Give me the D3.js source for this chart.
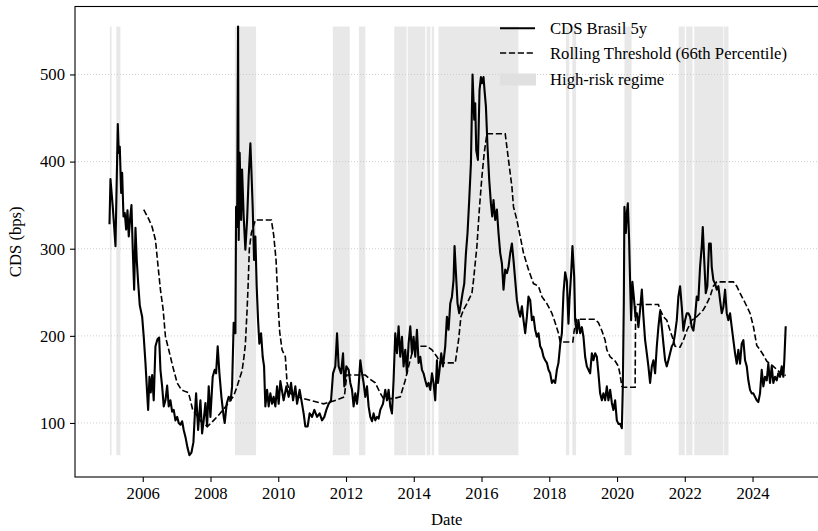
<!DOCTYPE html>
<html>
<head>
<meta charset="utf-8">
<script src="https://cdn.jsdelivr.net/npm/d3@7/dist/d3.min.js"></script>
<style>
  html, body { margin: 0; padding: 0; background: #ffffff; }
  svg { display: block; }
  text { font-family: "Liberation Serif", "Times New Roman", serif; fill: #000; }
</style>
</head>
<body>
<svg id="chart" width="818" height="531"></svg>
<script>
// Brazil 5y CDS (bps), dates as decimal years
const cdsYears = [
  2005.018, 2005.047, 2005.115, 2005.195, 2005.263, 2005.292, 2005.322, 2005.363, 2005.392, 2005.431,
  2005.469, 2005.510, 2005.549, 2005.587, 2005.628, 2005.667, 2005.705, 2005.746, 2005.785, 2005.823,
  2005.864, 2005.912, 2005.982, 2006.029, 2006.080, 2006.130, 2006.159, 2006.198, 2006.236, 2006.277,
  2006.324, 2006.375, 2006.434, 2006.484, 2006.522, 2006.572, 2006.619, 2006.670, 2006.720, 2006.767,
  2006.817, 2006.867, 2006.914, 2006.965, 2007.015, 2007.062, 2007.112, 2007.162, 2007.209, 2007.260,
  2007.319, 2007.378, 2007.437, 2007.496, 2007.540, 2007.575, 2007.634, 2007.702, 2007.752, 2007.799,
  2007.850, 2007.900, 2007.947, 2007.997, 2008.065, 2008.124, 2008.165, 2008.212, 2008.263, 2008.322,
  2008.389, 2008.419, 2008.478, 2008.537, 2008.596, 2008.637, 2008.684, 2008.735, 2008.755, 2008.785,
  2008.814, 2008.832, 2008.861, 2008.903, 2008.932, 2008.979, 2009.029, 2009.080, 2009.127, 2009.177,
  2009.206, 2009.245, 2009.286, 2009.324, 2009.363, 2009.404, 2009.442, 2009.493, 2009.540, 2009.581,
  2009.619, 2009.670, 2009.717, 2009.767, 2009.817, 2009.864, 2009.914, 2009.965, 2010.012, 2010.062,
  2010.159, 2010.239, 2010.307, 2010.378, 2010.437, 2010.504, 2010.555, 2010.631, 2010.702, 2010.749,
  2010.799, 2010.867, 2010.926, 2010.997, 2011.065, 2011.145, 2011.221, 2011.292, 2011.360, 2011.419,
  2011.487, 2011.558, 2011.617, 2011.684, 2011.735, 2011.782, 2011.853, 2011.912, 2011.950, 2012.009,
  2012.077, 2012.127, 2012.177, 2012.224, 2012.274, 2012.324, 2012.366, 2012.422, 2012.472, 2012.519,
  2012.569, 2012.619, 2012.667, 2012.717, 2012.767, 2012.814, 2012.864, 2012.914, 2012.962, 2013.012,
  2013.091, 2013.159, 2013.209, 2013.257, 2013.307, 2013.357, 2013.404, 2013.454, 2013.504, 2013.552,
  2013.602, 2013.652, 2013.699, 2013.749, 2013.799, 2013.847, 2013.897, 2013.947, 2013.994, 2014.044,
  2014.094, 2014.142, 2014.192, 2014.242, 2014.289, 2014.339, 2014.389, 2014.437, 2014.487, 2014.537,
  2014.584, 2014.634, 2014.684, 2014.714, 2014.761, 2014.811, 2014.861, 2014.929, 2014.979, 2015.027,
  2015.077, 2015.127, 2015.174, 2015.204, 2015.245, 2015.292, 2015.342, 2015.392, 2015.440, 2015.490,
  2015.540, 2015.587, 2015.637, 2015.687, 2015.735, 2015.785, 2015.814, 2015.844, 2015.894, 2015.941,
  2015.982, 2016.012, 2016.059, 2016.088, 2016.130, 2016.177, 2016.227, 2016.277, 2016.316, 2016.354,
  2016.404, 2016.454, 2016.501, 2016.552, 2016.602, 2016.649, 2016.699, 2016.749, 2016.796, 2016.847,
  2016.897, 2016.944, 2016.994, 2017.044, 2017.091, 2017.142, 2017.192, 2017.239, 2017.289, 2017.339,
  2017.386, 2017.437, 2017.487, 2017.534, 2017.584, 2017.634, 2017.682, 2017.732, 2017.782, 2017.829,
  2017.879, 2017.929, 2017.977, 2018.027, 2018.077, 2018.124, 2018.174, 2018.224, 2018.271, 2018.322,
  2018.372, 2018.419, 2018.469, 2018.519, 2018.566, 2018.596, 2018.646, 2018.684, 2018.735, 2018.764,
  2018.814, 2018.861, 2018.912, 2018.962, 2019.009, 2019.059, 2019.109, 2019.157, 2019.206, 2019.257,
  2019.304, 2019.354, 2019.404, 2019.451, 2019.501, 2019.552, 2019.599, 2019.649, 2019.699, 2019.746,
  2019.797, 2019.847, 2019.894, 2019.944, 2019.994, 2020.041, 2020.092, 2020.142, 2020.171, 2020.201,
  2020.218, 2020.260, 2020.289, 2020.319, 2020.357, 2020.387, 2020.416, 2020.454, 2020.504, 2020.543,
  2020.584, 2020.631, 2020.681, 2020.732, 2020.779, 2020.829, 2020.879, 2020.926, 2020.976, 2021.027,
  2021.074, 2021.124, 2021.174, 2021.221, 2021.271, 2021.322, 2021.369, 2021.419, 2021.469, 2021.516,
  2021.566, 2021.617, 2021.664, 2021.714, 2021.764, 2021.811, 2021.861, 2021.912, 2021.959, 2022.009,
  2022.059, 2022.106, 2022.156, 2022.206, 2022.254, 2022.304, 2022.354, 2022.401, 2022.451, 2022.501,
  2022.531, 2022.569, 2022.619, 2022.666, 2022.717, 2022.767, 2022.796, 2022.844, 2022.894, 2022.944,
  2022.991, 2023.041, 2023.091, 2023.139, 2023.189, 2023.239, 2023.286, 2023.336, 2023.386, 2023.434,
  2023.484, 2023.534, 2023.581, 2023.631, 2023.681, 2023.729, 2023.779, 2023.829, 2023.876, 2023.926,
  2023.976, 2024.024, 2024.074, 2024.124, 2024.171, 2024.221, 2024.271, 2024.319, 2024.369, 2024.419,
  2024.466, 2024.516, 2024.566, 2024.614, 2024.664, 2024.714, 2024.761, 2024.811, 2024.861, 2024.909,
  2024.938, 2024.979
];
const cdsValues = [
  328, 380, 348, 303, 443, 410, 417, 364, 387, 337,
  341, 322, 344, 314, 335, 350, 299, 253, 324, 287,
  261, 235, 222, 199, 169, 134, 115, 153, 135, 155,
  126, 188, 196, 198, 161, 142, 119, 126, 143, 119,
  126, 113, 115, 103, 107, 100, 98, 102, 92, 84,
  72, 63, 66, 78, 112, 134, 92, 126, 88, 103,
  123, 96, 142, 107, 153, 161, 157, 188, 157, 130,
  107, 100, 122, 130, 126, 142, 215, 203, 348, 325,
  555, 310, 410, 333, 391, 337, 299, 333, 383, 421,
  391, 348, 287, 314, 257, 218, 191, 203, 176, 165,
  119, 138, 119, 134, 122, 130, 119, 142, 122, 148,
  126, 142, 130, 146, 126, 142, 122, 138, 122, 111,
  96, 96, 111, 107, 115, 107, 111, 103, 107, 115,
  122, 126, 157, 165, 203, 165, 157, 180, 142, 165,
  161, 146, 138, 119, 134, 122, 138, 172, 157, 146,
  130, 142, 119, 107, 102, 111, 103, 107, 105, 115,
  122, 138, 126, 138, 119, 111, 149, 203, 180, 211,
  176, 199, 165, 184, 157, 191, 211, 180, 199, 176,
  207, 169, 176, 161, 157, 149, 142, 146, 138, 157,
  146, 126, 172, 146, 161, 180, 165, 188, 222, 207,
  237, 245, 264, 303, 272, 237, 226, 237, 249, 260,
  295, 318, 356, 398, 500, 448, 467, 413, 402, 482,
  497, 490, 497, 482, 463, 417, 379, 352, 337, 356,
  333, 345, 318, 295, 283, 253, 276, 272, 279, 295,
  306, 287, 264, 241, 230, 222, 234, 218, 203, 222,
  245, 241, 218, 222, 207, 199, 203, 188, 184, 176,
  172, 169, 161, 157, 146, 149, 146, 161, 169, 190,
  203, 249, 273, 263, 214, 241, 272, 303, 268, 218,
  203, 218, 203, 210, 199, 176, 165, 161, 157, 180,
  172, 180, 176, 157, 134, 126, 134, 126, 142, 126,
  138, 123, 115, 126, 103, 99, 99, 94, 142, 241,
  348, 318, 341, 352, 310, 260, 218, 262, 241, 222,
  226, 210, 230, 253, 222, 195, 180, 165, 146, 165,
  172, 157, 188, 210, 228, 210, 191, 172, 165, 172,
  180, 188, 191, 203, 218, 245, 257, 233, 206, 218,
  226, 226, 222, 210, 206, 222, 245, 241, 279, 303,
  325, 291, 249, 257, 306, 306, 279, 264, 260, 253,
  257, 241, 226, 233, 253, 226, 218, 226, 210, 195,
  180, 168, 184, 168, 191, 195, 172, 165, 149, 138,
  134, 134, 130, 126, 124, 134, 161, 142, 153, 149,
  168, 146, 165, 146, 153, 149, 157, 153, 165, 153,
  172, 211
];

// Rolling threshold (66th percentile of trailing window), bps
const thrYears = [
  2006.029, 2006.177, 2006.277, 2006.375, 2006.454, 2006.522, 2006.602, 2006.670, 2006.767, 2006.885,
  2007.015, 2007.142, 2007.260, 2007.348, 2007.407, 2007.475, 2007.555, 2007.752, 2007.909, 2008.094,
  2008.263, 2008.490, 2008.684, 2008.785, 2008.832, 2008.932, 2008.985, 2009.029, 2009.080, 2009.109,
  2009.147, 2009.206, 2009.324, 2009.796, 2009.864, 2009.935, 2009.994, 2010.041, 2010.112, 2010.209,
  2010.260, 2010.357, 2010.555, 2010.947, 2011.339, 2011.537, 2011.832, 2011.950, 2012.024, 2012.569,
  2012.717, 2012.864, 2013.012, 2013.109, 2013.404, 2013.602, 2013.749, 2013.847, 2013.947, 2014.094,
  2014.389, 2014.537, 2014.684, 2014.782, 2015.224, 2015.322, 2015.392, 2015.469, 2015.569, 2015.717,
  2015.764, 2015.864, 2015.941, 2016.012, 2016.080, 2016.159, 2016.699, 2016.796, 2016.897, 2016.944,
  2017.044, 2017.142, 2017.239, 2017.386, 2017.534, 2017.682, 2017.782, 2017.929, 2018.077, 2018.174,
  2018.271, 2018.322, 2018.696, 2018.735, 2018.814, 2019.354, 2019.451, 2019.552, 2019.649, 2019.699,
  2019.797, 2019.944, 2020.041, 2020.092, 2020.142, 2020.189, 2020.534, 2020.549, 2021.221, 2021.271,
  2021.369, 2021.469, 2021.566, 2021.664, 2021.714, 2021.861, 2021.959, 2022.059, 2022.206, 2022.354,
  2022.451, 2022.549, 2022.649, 2022.746, 2022.844, 2022.944, 2023.434, 2023.534, 2023.631, 2023.779,
  2023.926, 2024.024, 2024.124, 2024.221, 2024.319, 2024.419, 2024.516, 2024.614, 2024.811, 2024.909,
  2024.979
];
const thrValues = [
  345, 334, 325, 310, 279, 253, 230, 199, 184, 165,
  146, 138, 136, 135, 126, 115, 111, 100, 96, 103,
  110, 121, 131, 142, 148, 160, 175, 190, 230, 257,
  300, 318, 333, 333, 316, 287, 237, 205, 184, 176,
  146, 134, 130, 126, 122, 124, 128, 130, 155, 155,
  150, 146, 134, 128, 128, 130, 149, 165, 180, 188,
  188, 184, 176, 169, 169, 195, 222, 230, 237, 249,
  264, 303, 348, 383, 410, 432, 432, 402, 371, 348,
  333, 314, 295, 276, 260, 257, 245, 237, 226, 215,
  203, 193, 193, 206, 219, 219, 215, 206, 195, 184,
  176, 171, 165, 155, 142, 141, 141, 236, 236, 230,
  222, 218, 206, 195, 188, 187, 195, 206, 218, 222,
  226, 230, 237, 245, 257, 262, 262, 257, 249, 238,
  226, 211, 189, 184, 178, 171, 168, 165, 158, 154,
  155
];

// High-risk regime intervals (decimal years)
const regimeStart = [2005.03, 2005.22, 2008.72, 2011.61, 2012.38, 2013.425, 2013.82, 2014.38, 2014.53,
  2014.73, 2018.49, 2018.68, 2020.22, 2021.82, 2022.04, 2022.28, 2023.16];
const regimeEnd   = [2005.08, 2005.34, 2009.345, 2012.11, 2012.57, 2013.79, 2014.34, 2014.49, 2014.60,
  2017.09, 2018.59, 2018.79, 2020.43, 2022.00, 2022.23, 2023.14, 2023.29];

const xTicks = [2006, 2008, 2010, 2012, 2014, 2016, 2018, 2020, 2022, 2024];
const yTicks = [100, 200, 300, 400, 500];

const legendLabels = ["CDS Brasil 5y", "Rolling Threshold (66th Percentile)", "High-risk regime"];

// ---- layout ----
const plot = { left: 75, right: 818.6, top: 6.5, bottom: 477 };
const fontSize = 16.67;
const bandColor = "#e8e8e8";

const svg = d3.select("#chart");

const x = d3.scaleLinear().domain([2004.0, 2025.95]).range([plot.left, plot.right]);
const y = d3.scaleLinear().domain([38, 578]).range([plot.bottom, plot.top]);

const cds = cdsYears.map((t, i) => ({ t, v: cdsValues[i] }));
const thr = thrYears.map((t, i) => ({ t, v: thrValues[i] }));
const regimes = regimeStart.map((s, i) => ({ s, e: regimeEnd[i] }));

svg.append("defs").append("clipPath").attr("id", "plot-clip")
  .append("rect")
  .attr("x", plot.left).attr("y", plot.top)
  .attr("width", plot.right - plot.left).attr("height", plot.bottom - plot.top);

// shaded regimes span the observed CDS range
const vMin = d3.min(cdsValues), vMax = d3.max(cdsValues);
svg.append("g").attr("clip-path", "url(#plot-clip)")
  .selectAll("rect").data(regimes).join("rect")
  .attr("x", d => x(d.s))
  .attr("width", d => Math.max(0.8, x(d.e) - x(d.s)))
  .attr("y", y(vMax))
  .attr("height", y(vMin) - y(vMax))
  .attr("fill", bandColor);

// horizontal dotted grid
svg.append("g")
  .selectAll("line").data(yTicks).join("line")
  .attr("x1", plot.left).attr("x2", plot.right)
  .attr("y1", d => y(d)).attr("y2", d => y(d))
  .attr("stroke", "#c4c4c4").attr("stroke-width", 0.8)
  .attr("stroke-dasharray", "1,2");

const lineGen = d3.line().x(d => x(d.t)).y(d => y(d.v));

const series = svg.append("g").attr("clip-path", "url(#plot-clip)");
series.append("path").datum(thr)
  .attr("d", lineGen)
  .attr("fill", "none").attr("stroke", "#000")
  .attr("stroke-width", 1.6).attr("stroke-dasharray", "6.2,2.7");
series.append("path").datum(cds)
  .attr("d", lineGen)
  .attr("fill", "none").attr("stroke", "#000")
  .attr("stroke-width", 2.1).attr("stroke-linejoin", "round");

// axes
const xAxis = d3.axisBottom(x).tickValues(xTicks).tickFormat(d3.format("d"))
  .tickSize(5).tickPadding(5).tickSizeOuter(0);
const yAxis = d3.axisLeft(y).tickValues(yTicks).tickFormat(d3.format("d"))
  .tickSize(5).tickPadding(5).tickSizeOuter(0);

const gx = svg.append("g").attr("transform", `translate(0,${plot.bottom})`).call(xAxis);
const gy = svg.append("g").attr("transform", `translate(${plot.left},0)`).call(yAxis);
[gx, gy].forEach(g => {
  g.select(".domain").remove();
  g.selectAll(".tick line").attr("stroke", "#000").attr("stroke-width", 1.1);
  g.selectAll(".tick text")
    .style("font-family", "'Liberation Serif', 'Times New Roman', serif")
    .style("font-size", fontSize + "px").attr("fill", "#000");
});

// frame
svg.append("rect")
  .attr("x", plot.left).attr("y", plot.top)
  .attr("width", plot.right - plot.left).attr("height", plot.bottom - plot.top)
  .attr("fill", "none").attr("stroke", "#000").attr("stroke-width", 1.1);

// axis titles
svg.append("text")
  .attr("x", (plot.left + plot.right) / 2).attr("y", 525)
  .attr("text-anchor", "middle")
  .style("font-size", fontSize + "px")
  .text("Date");
svg.append("text")
  .attr("transform", `translate(21,${(plot.top + plot.bottom) / 2}) rotate(-90)`)
  .attr("text-anchor", "middle")
  .style("font-size", fontSize + "px")
  .text("CDS (bps)");

// legend
const legend = svg.append("g").attr("transform", "translate(500,0)");
const rowY = [28.3, 53, 79.5];
legend.append("line").attr("x1", 0).attr("x2", 35).attr("y1", rowY[0]).attr("y2", rowY[0])
  .attr("stroke", "#000").attr("stroke-width", 2.1);
legend.append("line").attr("x1", 0).attr("x2", 35).attr("y1", rowY[1]).attr("y2", rowY[1])
  .attr("stroke", "#000").attr("stroke-width", 1.6).attr("stroke-dasharray", "6.2,2.7");
legend.append("rect").attr("x", 0).attr("y", rowY[2] - 6).attr("width", 36).attr("height", 12)
  .attr("fill", "#e0e0e0");
legend.selectAll("text.lab").data(legendLabels).join("text")
  .attr("class", "lab")
  .attr("x", 50).attr("y", (d, i) => rowY[i])
  .attr("dy", "0.33em")
  .style("font-size", fontSize + "px")
  .text(d => d);
</script>
</body>
</html>
